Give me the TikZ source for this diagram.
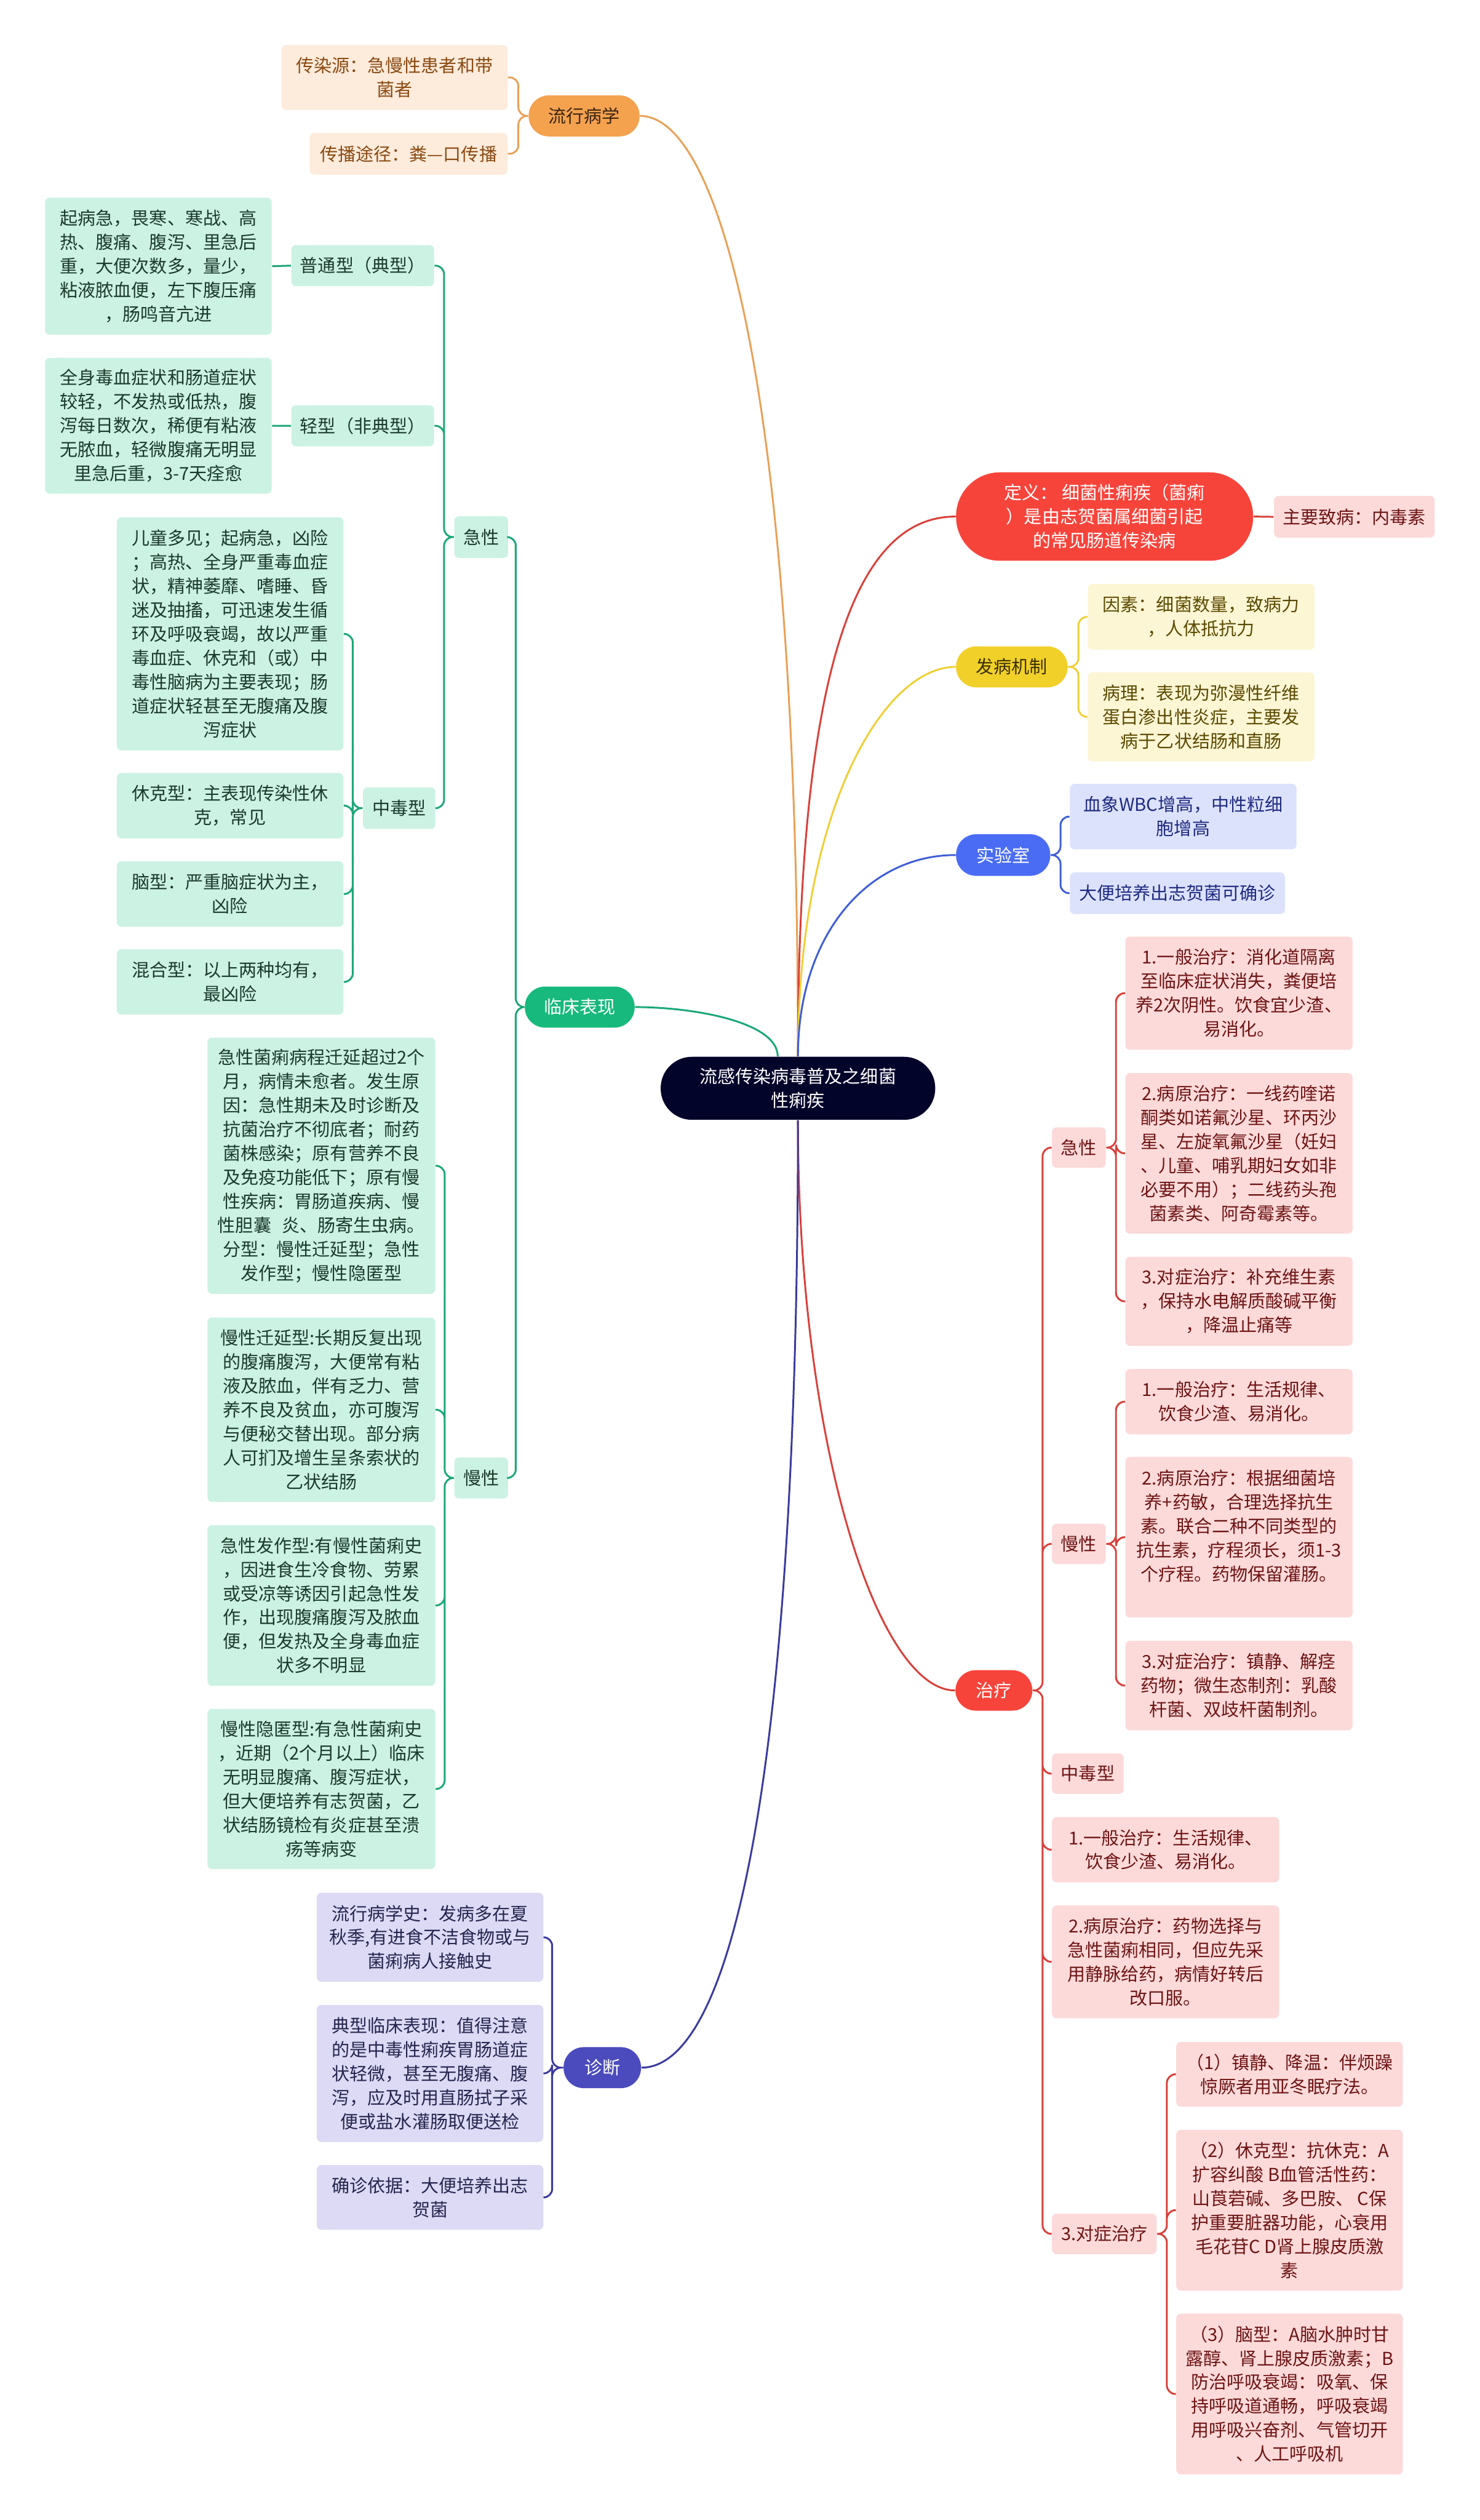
\documentclass[tikz,border=0pt]{standalone}
\usepackage{fontspec}
\newfontfamily\cjk{Noto Sans CJK SC}
\usepackage{tikz}

\definecolor{cRoot}{HTML}{03042A}
\definecolor{cEpi}{HTML}{F5A24F}
\definecolor{cEpiT}{HTML}{3B2410}
\definecolor{cEpiF}{HTML}{FDEBDB}
\definecolor{cEpiX}{HTML}{8A4A12}
\definecolor{cEpiD}{HTML}{E9A056}
\definecolor{cRed}{HTML}{F7443B}
\definecolor{cRedF}{HTML}{FCDADA}
\definecolor{cRedX}{HTML}{6E1414}
\definecolor{cRedD}{HTML}{D8403A}
\definecolor{cPat}{HTML}{F2D02A}
\definecolor{cPatT}{HTML}{3B3000}
\definecolor{cPatF}{HTML}{FDF6D5}
\definecolor{cPatX}{HTML}{5B4A00}
\definecolor{cPatD}{HTML}{EFCF35}
\definecolor{cLab}{HTML}{4A6CF5}
\definecolor{cLabF}{HTML}{DCE2FC}
\definecolor{cLabX}{HTML}{1F2A80}
\definecolor{cLabD}{HTML}{3F5ED6}
\definecolor{cClin}{HTML}{17B97C}
\definecolor{cClinF}{HTML}{CCF2E3}
\definecolor{cClinX}{HTML}{1A3A2C}
\definecolor{cClinD}{HTML}{1AA776}
\definecolor{cDiag}{HTML}{4B4BBE}
\definecolor{cDiagF}{HTML}{DCDAF4}
\definecolor{cDiagX}{HTML}{25254F}
\definecolor{cDiagD}{HTML}{3A3A9E}

\tikzset{
  mmtext/.style={align=center,inner sep=0pt,font=\cjk\fontsize{8.8}{11.8}\selectfont},
  branch/.style={mmtext,rounded corners=0.35cm,minimum height=0.71cm},
  leaf/.style={mmtext,rounded corners=0.08cm,minimum width=3.92cm},
  conn/.style={line width=0.9pt,rounded corners=0.15cm},
  epibranch/.style={branch,fill=cEpi,text=cEpiT},
  epileaf/.style={leaf,fill=cEpiF,text=cEpiX},
  epiline/.style={conn,draw=cEpiD},
  redbranch/.style={branch,fill=cRed,text=white},
  redleaf/.style={leaf,fill=cRedF,text=cRedX},
  redline/.style={conn,draw=cRedD},
  patbranch/.style={branch,fill=cPat,text=cPatT},
  patleaf/.style={leaf,fill=cPatF,text=cPatX},
  patline/.style={conn,draw=cPatD},
  labbranch/.style={branch,fill=cLab,text=white},
  lableaf/.style={leaf,fill=cLabF,text=cLabX},
  labline/.style={conn,draw=cLabD},
  clinbranch/.style={branch,fill=cClin,text=white},
  clinleaf/.style={leaf,fill=cClinF,text=cClinX},
  clinline/.style={conn,draw=cClinD},
  diagbranch/.style={branch,fill=cDiag,text=white},
  diagleaf/.style={leaf,fill=cDiagF,text=cDiagX},
  diagline/.style={conn,draw=cDiagD}
}

\begin{document}
\begin{tikzpicture}
\useasboundingbox[fill=white](0,0)rectangle(25.6,-43.59);

\node[mmtext,fill=cRoot,text=white,rounded corners=0.54cm,minimum width=4.75cm,minimum height=1.09cm](root)at(13.805,-18.825){流感传染病毒普及之细菌\\性痢疾};

% 流行病学
\node[epibranch,minimum width=1.92cm](epi)at(10.105,-2.005){流行病学};
\node[epileaf,minimum width=3.91cm,minimum height=1.12cm](epiA)at(6.825,-1.34){传染源：急慢性患者和带\\菌者};
\node[epileaf,minimum width=3.42cm,minimum height=0.72cm](epiB)at(7.07,-2.66){传播途径：粪—口传播};

% 临床表现
\node[clinbranch,minimum width=1.90cm](clin)at(10.03,-17.42){临床表现};
\node[clinleaf,minimum width=0.93cm,minimum height=0.72cm](clinA)at(8.325,-9.29){急性};
\node[clinleaf,minimum width=2.47cm,minimum height=0.71cm](clinAa)at(6.275,-4.595){普通型（典型）};
\node[clinleaf,minimum height=2.37cm](clinAa1)at(2.74,-4.605){起病急，畏寒、寒战、高\\热、腹痛、腹泻、里急后\\重，大便次数多，量少，\\粘液脓血便，左下腹压痛\\，肠鸣音亢进};
\node[clinleaf,minimum width=2.47cm,minimum height=0.71cm](clinAb)at(6.275,-7.365){轻型（非典型）};
\node[clinleaf,minimum height=2.35cm](clinAb1)at(2.74,-7.365){全身毒血症状和肠道症状\\较轻，不发热或低热，腹\\泻每日数次，稀便有粘液\\无脓血，轻微腹痛无明显\\里急后重，3-7天痊愈};
\node[clinleaf,minimum width=1.25cm,minimum height=0.72cm](clinAc)at(6.905,-13.98){中毒型};
\node[clinleaf,minimum height=4.03cm](clinAc1)at(3.98,-10.965){儿童多见；起病急，凶险\\；高热、全身严重毒血症\\状，精神萎靡、嗜睡、昏\\迷及抽搐，可迅速发生循\\环及呼吸衰竭，故以严重\\毒血症、休克和（或）中\\毒性脑病为主要表现；肠\\道症状轻甚至无腹痛及腹\\泻症状};
\node[clinleaf,minimum height=1.13cm](clinAc2)at(3.98,-13.935){休克型：主表现传染性休\\克，常见};
\node[clinleaf,minimum height=1.13cm](clinAc3)at(3.98,-15.465){脑型：严重脑症状为主，\\凶险};
\node[clinleaf,minimum height=1.13cm](clinAc4)at(3.98,-16.985){混合型：以上两种均有，\\最凶险};
\node[clinleaf,minimum width=0.93cm,minimum height=0.71cm](clinB)at(8.325,-25.565){慢性};
\node[clinleaf,minimum width=3.94cm,minimum height=4.43cm](clinB1)at(5.56,-20.165){急性菌痢病程迁延超过2个\\月，病情未愈者。发生原\\因：急性期未及时诊断及\\抗菌治疗不彻底者；耐药\\菌株感染；原有营养不良\\及免疫功能低下；原有慢\\性疾病：胃肠道疾病、慢\\性胆囊\hspace{0.6em}炎、肠寄生虫病。\\分型：慢性迁延型；急性\\发作型；慢性隐匿型};
\node[clinleaf,minimum width=3.94cm,minimum height=3.19cm](clinB2)at(5.56,-24.385){慢性迁延型:长期反复出现\\的腹痛腹泻，大便常有粘\\液及脓血，伴有乏力、营\\养不良及贫血，亦可腹泻\\与便秘交替出现。部分病\\人可扪及增生呈条索状的\\乙状结肠};
\node[clinleaf,minimum width=3.94cm,minimum height=2.78cm](clinB3)at(5.56,-27.77){急性发作型:有慢性菌痢史\\，因进食生冷食物、劳累\\或受凉等诱因引起急性发\\作，出现腹痛腹泻及脓血\\便，但发热及全身毒血症\\状多不明显};
\node[clinleaf,minimum width=3.94cm,minimum height=2.77cm](clinB4)at(5.56,-30.945){慢性隐匿型:有急性菌痢史\\，近期（2个月以上）临床\\无明显腹痛、腹泻症状，\\但大便培养有志贺菌，乙\\状结肠镜检有炎症甚至溃\\疡等病变};

% 诊断
\node[diagbranch,minimum width=1.34cm](diag)at(10.42,-35.765){诊断};
\node[diagleaf,minimum height=1.54cm](diagA)at(7.44,-33.51){流行病学史：发病多在夏\\秋季,有进食不洁食物或与\\菌痢病人接触史};
\node[diagleaf,minimum height=2.37cm](diagB)at(7.44,-35.865){典型临床表现：值得注意\\的是中毒性痢疾胃肠道症\\状轻微，甚至无腹痛、腹\\泻，应及时用直肠拭子采\\便或盐水灌肠取便送检};
\node[diagleaf,minimum height=1.12cm](diagC)at(7.44,-38.01){确诊依据：大便培养出志\\贺菌};

% 定义
\node[redbranch,rounded corners=0.76cm,minimum width=5.14cm,minimum height=1.53cm](def)at(19.11,-8.935){定义：\ 细菌性痢疾（菌痢\\）是由志贺菌属细菌引起\\的常见肠道传染病};
\node[redleaf,minimum width=2.78cm,minimum height=0.72cm](defA)at(23.43,-8.94){主要致病：内毒素};

% 发病机制
\node[patbranch,minimum width=1.93cm](patho)at(17.505,-11.535){发病机制};
\node[patleaf,minimum height=1.14cm](pathoA)at(20.78,-10.67){因素：细菌数量，致病力\\，人体抵抗力};
\node[patleaf,minimum height=1.54cm](pathoB)at(20.78,-12.40){病理：表现为弥漫性纤维\\蛋白渗出性炎症，主要发\\病于乙状结肠和直肠};

% 实验室
\node[labbranch,minimum width=1.63cm,minimum height=0.72cm](lab)at(17.355,-14.79){实验室};
\node[lableaf,minimum height=1.13cm](labA)at(20.47,-14.125){血象WBC增高，中性粒细\\胞增高};
\node[lableaf,minimum width=3.72cm,minimum height=0.72cm](labB)at(20.37,-15.45){大便培养出志贺菌可确诊};

% 治疗
\node[redbranch,minimum width=1.33cm,minimum height=0.70cm](treat)at(17.195,-29.24){治疗};
\node[redleaf,minimum width=0.93cm,minimum height=0.70cm](trA)at(18.665,-19.85){急性};
\node[redleaf,minimum width=3.93cm,minimum height=1.96cm](trA1)at(21.435,-17.18){1.一般治疗：消化道隔离\\至临床症状消失，粪便培\\养2次阴性。饮食宜少渣、\\易消化。};
\node[redleaf,minimum width=3.93cm,minimum height=2.78cm](trA2)at(21.435,-19.95){2.病原治疗：一线药喹诺\\酮类如诺氟沙星、环丙沙\\星、左旋氧氟沙星（妊妇\\、儿童、哺乳期妇女如非\\必要不用）；二线药头孢\\菌素类、阿奇霉素等。};
\node[redleaf,minimum width=3.93cm,minimum height=1.54cm](trA3)at(21.435,-22.51){3.对症治疗：补充维生素\\，保持水电解质酸碱平衡\\，降温止痛等};
\node[redleaf,minimum width=0.93cm,minimum height=0.70cm](trB)at(18.665,-26.705){慢性};
\node[redleaf,minimum width=3.93cm,minimum height=1.13cm](trB1)at(21.435,-24.245){1.一般治疗：生活规律、\\饮食少渣、易消化。};
\node[redleaf,minimum width=3.93cm,minimum height=2.78cm](trB2)at(21.435,-26.59){2.病原治疗：根据细菌培\\养+药敏，合理选择抗生\\素。联合二种不同类型的\\抗生素，疗程须长，须1-3\\个疗程。药物保留灌肠。\\\mbox{}};
\node[redleaf,minimum width=3.93cm,minimum height=1.55cm](trB3)at(21.435,-29.155){3.对症治疗：镇静、解痉\\药物；微生态制剂：乳酸\\杆菌、双歧杆菌制剂。};
\node[redleaf,minimum width=1.24cm,minimum height=0.70cm](trC)at(18.82,-30.68){中毒型};
\node[redleaf,minimum width=3.93cm,minimum height=1.13cm](trD)at(20.165,-31.995){1.一般治疗：生活规律、\\饮食少渣、易消化。};
\node[redleaf,minimum width=3.93cm,minimum height=1.95cm](trE)at(20.165,-33.935){2.病原治疗：药物选择与\\急性菌痢相同，但应先采\\用静脉给药，病情好转后\\改口服。};
\node[redleaf,minimum width=1.81cm,minimum height=0.70cm](trF)at(19.105,-38.64){3.对症治疗};
\node[redleaf,minimum height=1.12cm](trF1)at(22.31,-35.88){（1）镇静、降温：伴烦躁\\惊厥者用亚冬眠疗法。};
\node[redleaf,minimum height=2.78cm](trF2)at(22.31,-38.23){（2）休克型：抗休克：A\\扩容纠酸 B血管活性药：\\山莨菪碱、多巴胺、 C保\\护重要脏器功能，心衰用\\毛花苷C D肾上腺皮质激\\素};
\node[redleaf,minimum height=2.78cm](trF3)at(22.31,-41.41){（3）脑型：A脑水肿时甘\\露醇、肾上腺皮质激素；B\\防治呼吸衰竭：吸氧、保\\持呼吸道通畅，呼吸衰竭\\用呼吸兴奋剂、气管切开\\、人工呼吸机};

% main branches
\draw[epiline](root.north)..controls +(0,11.28) and +(1.42,0)..(epi.east);
\draw[redline](root.north)..controls +(0,7.28) and +(-1.54,0)..(def.west);
\draw[patline](root.north)..controls +(0,4.28) and +(-1.24,0)..(patho.west);
\draw[labline](root.north)..controls +(0,2.08) and +(-1.54,0)..(lab.west);
\draw[clinline]([xshift=-0.35cm]root.north)..controls +(0,0.6) and +(1.0,0)..(clin.east);
\draw[redline](root.south)..controls +(0,-5.63) and +(-1.33,0)..(treat.west);
\draw[diagline](root.south)..controls +(0,-11.63) and +(1.51,0)..(diag.east);

% sub branches
\draw[epiline](epi.west)--++(-0.17,0)|-(epiA.east) (epi.west)--++(-0.17,0)|-(epiB.east);
\draw[clinline](clin.west)--++(-0.15,0)|-(clinA.east) (clin.west)--++(-0.15,0)|-(clinB.east);
\draw[clinline](clinA.west)--++(-0.17,0)|-(clinAa.east) (clinA.west)--++(-0.17,0)|-(clinAb.east) (clinA.west)--++(-0.17,0)|-(clinAc.east);
\draw[clinline](clinAa.west)--(clinAa1.east) (clinAb.west)--(clinAb1.east);
\draw[clinline](clinAc.west)--++(-0.17,0)|-(clinAc1.east) (clinAc.west)--++(-0.17,0)|-(clinAc2.east) (clinAc.west)--++(-0.17,0)|-(clinAc3.east) (clinAc.west)--++(-0.17,0)|-(clinAc4.east);
\draw[clinline](clinB.west)--++(-0.16,0)|-(clinB1.east) (clinB.west)--++(-0.16,0)|-(clinB2.east) (clinB.west)--++(-0.16,0)|-(clinB3.east) (clinB.west)--++(-0.16,0)|-(clinB4.east);
\draw[diagline](diag.west)--++(-0.19,0)|-(diagA.east) (diag.west)--++(-0.19,0)|-(diagB.east) (diag.west)--++(-0.19,0)|-(diagC.east);
\draw[redline](def.east)--(defA.west);
\draw[patline](patho.east)--++(0.18,0)|-(pathoA.west) (patho.east)--++(0.18,0)|-(pathoB.west);
\draw[labline](lab.east)--++(0.17,0)|-(labA.west) (lab.east)--++(0.17,0)|-(labB.west);
\draw[redline](treat.east)--++(0.17,0)|-(trA.west) (treat.east)--++(0.17,0)|-(trB.west) (treat.east)--++(0.17,0)|-(trC.west) (treat.east)--++(0.17,0)|-(trD.west) (treat.east)--++(0.17,0)|-(trE.west) (treat.east)--++(0.17,0)|-(trF.west);
\draw[redline](trA.east)--++(0.17,0)|-(trA1.west) (trA.east)--++(0.17,0)|-(trA2.west) (trA.east)--++(0.17,0)|-(trA3.west);
\draw[redline](trB.east)--++(0.17,0)|-(trB1.west) (trB.east)--++(0.17,0)|-(trB2.west) (trB.east)--++(0.17,0)|-(trB3.west);
\draw[redline](trF.east)--++(0.17,0)|-(trF1.west) (trF.east)--++(0.17,0)|-(trF2.west) (trF.east)--++(0.17,0)|-(trF3.west);
\end{tikzpicture}
\end{document}
